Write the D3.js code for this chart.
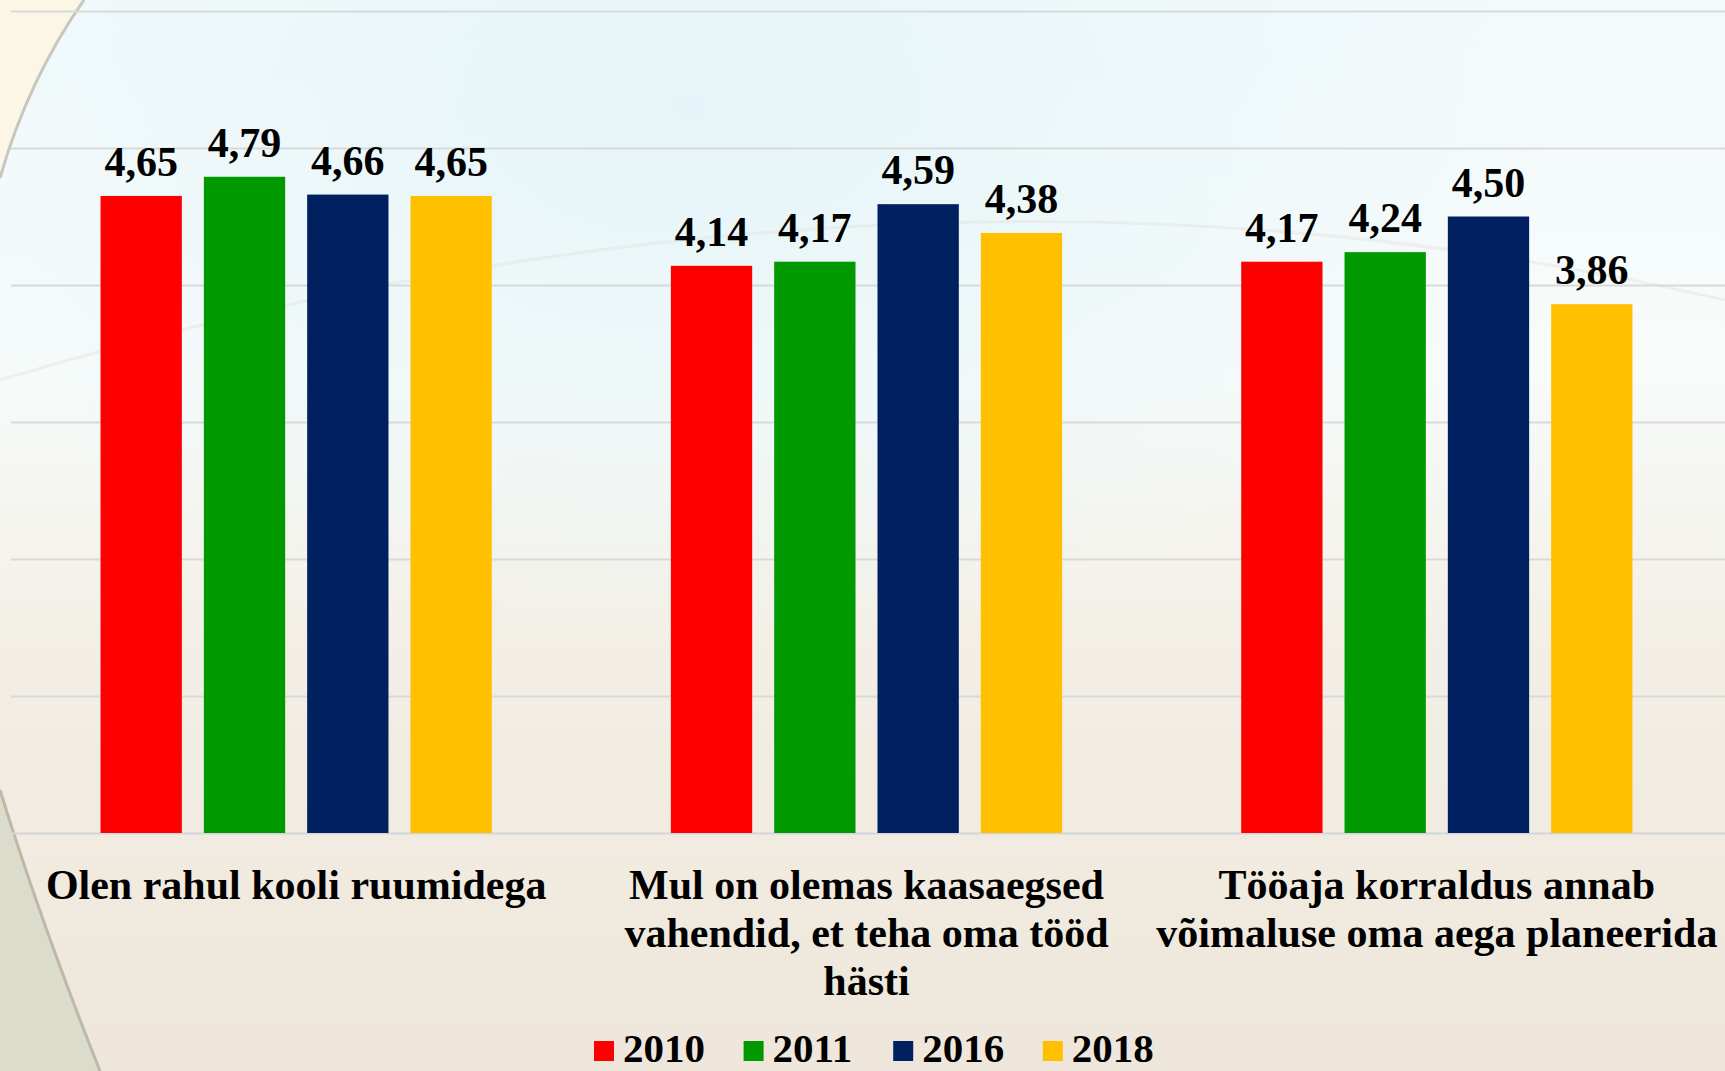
<!DOCTYPE html>
<html>
<head>
<meta charset="utf-8">
<script src="https://cdn.jsdelivr.net/npm/d3@7"></script>
<style>
  body { margin: 0; overflow: hidden; }
  svg { display: block; }
  .lbl { font-family: "Liberation Serif", "Times New Roman", serif; font-weight: bold; fill: #000; }
</style>
</head>
<body>
<svg></svg>
<script>
var width = 1725,
    height = 1071,
    margin = {top: 11, right: 3, bottom: 238, left: 11};

// data
var categories = [
  "Olen rahul kooli ruumidega",
  "Mul on olemas kaasaegsed vahendid, et teha oma tööd hästi",
  "Tööaja korraldus annab võimaluse oma aega planeerida"
];
// how the category labels break into lines
var categoryLines = [
  ["Olen rahul kooli ruumidega"],
  ["Mul on olemas kaasaegsed", "vahendid, et teha oma tööd", "hästi"],
  ["Tööaja korraldus annab", "võimaluse oma aega planeerida"]
];
var years = ["2010", "2011", "2016", "2018"];
var values2010 = [4.65, 4.14, 4.17];
var values2011 = [4.79, 4.17, 4.24];
var values2016 = [4.66, 4.59, 4.50];
var values2018 = [4.65, 4.38, 3.86];
var yTicks = [0, 1, 2, 3, 4, 5, 6];

var series = [values2010, values2011, values2016, values2018];
var colorList = ["#ff0000", "#009900", "#002060", "#ffc000"];

var plotW = width - margin.left - margin.right,
    plotH = height - margin.top - margin.bottom;

var svg = d3.select("svg")
    .attr("width", width)
    .attr("height", height);

// background
var defs = svg.append("defs");
var bg = defs.append("linearGradient")
    .attr("id", "bg")
    .attr("x1", 0).attr("y1", 0).attr("x2", 0).attr("y2", 1);
bg.append("stop").attr("offset", "0%").attr("stop-color", "#f3fafc");
bg.append("stop").attr("offset", "35%").attr("stop-color", "#f7fbfa");
bg.append("stop").attr("offset", "60%").attr("stop-color", "#f3efe6");
bg.append("stop").attr("offset", "100%").attr("stop-color", "#eee6da");

var glow = defs.append("radialGradient")
    .attr("id", "glow")
    .attr("cx", 0.4).attr("cy", 0.1).attr("r", 0.5);
glow.append("stop").attr("offset", "0%").attr("stop-color", "#e4f4f8").attr("stop-opacity", 0.9);
glow.append("stop").attr("offset", "100%").attr("stop-color", "#e4f4f8").attr("stop-opacity", 0);

svg.append("rect").attr("width", width).attr("height", height).attr("fill", "url(#bg)");
svg.append("rect").attr("width", width).attr("height", height).attr("fill", "url(#glow)");

// decorative swooshes
svg.append("path")
    .attr("d", "M0,0 L84,0 Q28,80 0,178 Z")
    .attr("fill", "#fbf6e6");
svg.append("path")
    .attr("d", "M84,0 Q28,80 0,178")
    .attr("fill", "none").attr("stroke", "#c9c6bd").attr("stroke-width", 3);
svg.append("path")
    .attr("d", "M0,790 Q40,920 100,1071 L0,1071 Z")
    .attr("fill", "#dcdcca");
svg.append("path")
    .attr("d", "M0,790 Q40,920 100,1071")
    .attr("fill", "none").attr("stroke", "#bdb8aa").attr("stroke-width", 3);
svg.append("path")
    .attr("d", "M0,380 Q900,110 1725,300")
    .attr("fill", "none").attr("stroke", "#dcd6d0").attr("stroke-opacity", 0.3).attr("stroke-width", 3);

var g = svg.append("g")
    .attr("transform", "translate(" + margin.left + "," + margin.top + ")");

// scales
var x0 = d3.scaleBand()
    .domain(categories)
    .range([0, plotW])
    .paddingInner(0.314)
    .paddingOuter(0.157);

var x1 = d3.scaleBand()
    .domain(years)
    .range([0, x0.bandwidth()])
    .paddingInner(0.213)
    .paddingOuter(0);

var y = d3.scaleLinear()
    .domain([0, 6])
    .range([plotH, 0]);

var color = d3.scaleOrdinal().domain(years).range(colorList);

// gridlines
g.append("g")
    .call(d3.axisLeft(y).tickValues(yTicks).tickSize(-(plotW + margin.right)).tickFormat(""))
    .call(function(a) {
      a.select(".domain").remove();
      a.selectAll("line")
        .attr("stroke", function(d) { return d === 0 ? "#d3d6dd" : "#d9d9d9"; })
        .attr("stroke-width", 2);
    });

var fmt = function(v) { return d3.format(".2f")(v).replace(".", ","); };

// bars
var groups = g.selectAll(".grp")
    .data(categories)
    .enter()
    .append("g")
      .attr("class", "grp")
      .attr("transform", function(d) { return "translate(" + x0(d) + ",0)"; });

groups.selectAll("rect")
    .data(function(d, i) {
      return years.map(function(yr, j) { return {year: yr, value: series[j][i]}; });
    })
    .enter()
    .append("rect")
      .attr("x", function(d) { return x1(d.year); })
      .attr("y", function(d) { return y(d.value); })
      .attr("width", x1.bandwidth())
      .attr("height", function(d) { return y(0) - y(d.value); })
      .attr("fill", function(d) { return color(d.year); });

groups.selectAll("text")
    .data(function(d, i) {
      return years.map(function(yr, j) { return {year: yr, value: series[j][i]}; });
    })
    .enter()
    .append("text")
      .attr("class", "lbl")
      .attr("x", function(d) { return x1(d.year) + x1.bandwidth() / 2; })
      .attr("y", function(d) { return y(d.value) - 20; })
      .attr("text-anchor", "middle")
      .style("font-size", "42px")
      .text(function(d) { return fmt(d.value); });

// category labels
g.selectAll(".cat")
    .data(categories)
    .enter()
    .append("text")
      .attr("class", "lbl cat")
      .attr("text-anchor", "middle")
      .attr("x", function(d) { return x0(d) + x0.bandwidth() / 2; })
      .attr("y", plotH + 66)
      .style("font-size", "42px")
      .each(function(d, i) {
        var t = d3.select(this);
        categoryLines[i].forEach(function(line, k) {
          t.append("tspan")
            .attr("x", x0(d) + x0.bandwidth() / 2)
            .attr("dy", k === 0 ? 0 : 48)
            .text(line);
        });
      });

// legend
var legend = svg.append("g")
    .attr("transform", "translate(594,1041)");

var item = legend.selectAll(".item")
    .data(years)
    .enter()
    .append("g")
      .attr("class", "item")
      .attr("transform", function(d, i) { return "translate(" + (i * 149.6) + ",0)"; });

item.append("rect")
    .attr("width", 20)
    .attr("height", 20)
    .attr("fill", function(d) { return color(d); });

item.append("text")
    .attr("class", "lbl")
    .attr("x", 29)
    .attr("y", 21)
    .style("font-size", "41px")
    .text(function(d) { return d; });
</script>
</body>
</html>
